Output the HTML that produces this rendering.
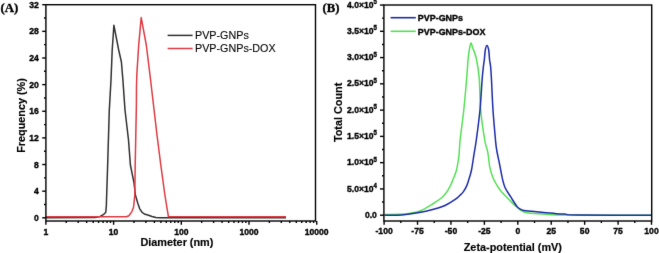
<!DOCTYPE html>
<html><head><meta charset="utf-8"><style>
html,body{margin:0;padding:0;background:#fff;width:659px;height:253px;overflow:hidden}
svg{display:block}
text{stroke:#000;stroke-width:0.35px;paint-order:stroke}

</style></head><body>
<svg width="659" height="253" viewBox="0 0 659 253"><defs><filter id="bl" filterUnits="userSpaceOnUse" x="0" y="0" width="659" height="253" color-interpolation-filters="sRGB"><feConvolveMatrix order="3" kernelMatrix="1 12 1 12 144 12 1 12 1" edgeMode="duplicate"/></filter></defs><g filter="url(#bl)"><rect x="0" y="0" width="659" height="253" fill="#fff"/><line x1="42.20" y1="217.82" x2="45.90" y2="217.82" stroke="#000" stroke-width="1.4"/>
<text transform="translate(38.90,220.82) scale(1,1.12)" font-family="Liberation Sans" font-size="8.6" font-weight="bold" text-anchor="end">0</text>
<line x1="42.20" y1="191.18" x2="45.90" y2="191.18" stroke="#000" stroke-width="1.4"/>
<text transform="translate(38.90,194.18) scale(1,1.12)" font-family="Liberation Sans" font-size="8.6" font-weight="bold" text-anchor="end">4</text>
<line x1="42.20" y1="164.54" x2="45.90" y2="164.54" stroke="#000" stroke-width="1.4"/>
<text transform="translate(38.90,167.54) scale(1,1.12)" font-family="Liberation Sans" font-size="8.6" font-weight="bold" text-anchor="end">8</text>
<line x1="42.20" y1="137.90" x2="45.90" y2="137.90" stroke="#000" stroke-width="1.4"/>
<text transform="translate(38.90,140.90) scale(1,1.12)" font-family="Liberation Sans" font-size="8.6" font-weight="bold" text-anchor="end">12</text>
<line x1="42.20" y1="111.26" x2="45.90" y2="111.26" stroke="#000" stroke-width="1.4"/>
<text transform="translate(38.90,114.26) scale(1,1.12)" font-family="Liberation Sans" font-size="8.6" font-weight="bold" text-anchor="end">16</text>
<line x1="42.20" y1="84.62" x2="45.90" y2="84.62" stroke="#000" stroke-width="1.4"/>
<text transform="translate(38.90,87.62) scale(1,1.12)" font-family="Liberation Sans" font-size="8.6" font-weight="bold" text-anchor="end">20</text>
<line x1="42.20" y1="57.98" x2="45.90" y2="57.98" stroke="#000" stroke-width="1.4"/>
<text transform="translate(38.90,60.98) scale(1,1.12)" font-family="Liberation Sans" font-size="8.6" font-weight="bold" text-anchor="end">24</text>
<line x1="42.20" y1="31.34" x2="45.90" y2="31.34" stroke="#000" stroke-width="1.4"/>
<text transform="translate(38.90,34.34) scale(1,1.12)" font-family="Liberation Sans" font-size="8.6" font-weight="bold" text-anchor="end">28</text>
<line x1="42.20" y1="4.70" x2="45.90" y2="4.70" stroke="#000" stroke-width="1.4"/>
<text transform="translate(38.90,7.70) scale(1,1.12)" font-family="Liberation Sans" font-size="8.6" font-weight="bold" text-anchor="end">32</text>
<line x1="44.00" y1="204.50" x2="45.90" y2="204.50" stroke="#000" stroke-width="1.4"/>
<line x1="44.00" y1="177.86" x2="45.90" y2="177.86" stroke="#000" stroke-width="1.4"/>
<line x1="44.00" y1="151.22" x2="45.90" y2="151.22" stroke="#000" stroke-width="1.4"/>
<line x1="44.00" y1="124.58" x2="45.90" y2="124.58" stroke="#000" stroke-width="1.4"/>
<line x1="44.00" y1="97.94" x2="45.90" y2="97.94" stroke="#000" stroke-width="1.4"/>
<line x1="44.00" y1="71.30" x2="45.90" y2="71.30" stroke="#000" stroke-width="1.4"/>
<line x1="44.00" y1="44.66" x2="45.90" y2="44.66" stroke="#000" stroke-width="1.4"/>
<line x1="44.00" y1="18.02" x2="45.90" y2="18.02" stroke="#000" stroke-width="1.4"/>
<line x1="45.90" y1="221.00" x2="45.90" y2="224.80" stroke="#000" stroke-width="1.4"/>
<text transform="translate(45.90,234.80) scale(1,1.12)" font-family="Liberation Sans" font-size="8.6" font-weight="bold" text-anchor="middle">1</text>
<line x1="113.60" y1="221.00" x2="113.60" y2="224.80" stroke="#000" stroke-width="1.4"/>
<text transform="translate(113.60,234.80) scale(1,1.12)" font-family="Liberation Sans" font-size="8.6" font-weight="bold" text-anchor="middle">10</text>
<line x1="181.30" y1="221.00" x2="181.30" y2="224.80" stroke="#000" stroke-width="1.4"/>
<text transform="translate(181.30,234.80) scale(1,1.12)" font-family="Liberation Sans" font-size="8.6" font-weight="bold" text-anchor="middle">100</text>
<line x1="249.00" y1="221.00" x2="249.00" y2="224.80" stroke="#000" stroke-width="1.4"/>
<text transform="translate(249.00,234.80) scale(1,1.12)" font-family="Liberation Sans" font-size="8.6" font-weight="bold" text-anchor="middle">1000</text>
<line x1="316.70" y1="221.00" x2="316.70" y2="224.80" stroke="#000" stroke-width="1.4"/>
<text transform="translate(316.70,234.80) scale(1,1.12)" font-family="Liberation Sans" font-size="8.6" font-weight="bold" text-anchor="middle">10000</text>
<line x1="66.28" y1="221.00" x2="66.28" y2="223.00" stroke="#000" stroke-width="1.4"/>
<line x1="78.20" y1="221.00" x2="78.20" y2="223.00" stroke="#000" stroke-width="1.4"/>
<line x1="86.66" y1="221.00" x2="86.66" y2="223.00" stroke="#000" stroke-width="1.4"/>
<line x1="93.22" y1="221.00" x2="93.22" y2="223.00" stroke="#000" stroke-width="1.4"/>
<line x1="98.58" y1="221.00" x2="98.58" y2="223.00" stroke="#000" stroke-width="1.4"/>
<line x1="103.11" y1="221.00" x2="103.11" y2="223.00" stroke="#000" stroke-width="1.4"/>
<line x1="107.04" y1="221.00" x2="107.04" y2="223.00" stroke="#000" stroke-width="1.4"/>
<line x1="110.50" y1="221.00" x2="110.50" y2="223.00" stroke="#000" stroke-width="1.4"/>
<line x1="133.98" y1="221.00" x2="133.98" y2="223.00" stroke="#000" stroke-width="1.4"/>
<line x1="145.90" y1="221.00" x2="145.90" y2="223.00" stroke="#000" stroke-width="1.4"/>
<line x1="154.36" y1="221.00" x2="154.36" y2="223.00" stroke="#000" stroke-width="1.4"/>
<line x1="160.92" y1="221.00" x2="160.92" y2="223.00" stroke="#000" stroke-width="1.4"/>
<line x1="166.28" y1="221.00" x2="166.28" y2="223.00" stroke="#000" stroke-width="1.4"/>
<line x1="170.81" y1="221.00" x2="170.81" y2="223.00" stroke="#000" stroke-width="1.4"/>
<line x1="174.74" y1="221.00" x2="174.74" y2="223.00" stroke="#000" stroke-width="1.4"/>
<line x1="178.20" y1="221.00" x2="178.20" y2="223.00" stroke="#000" stroke-width="1.4"/>
<line x1="201.68" y1="221.00" x2="201.68" y2="223.00" stroke="#000" stroke-width="1.4"/>
<line x1="213.60" y1="221.00" x2="213.60" y2="223.00" stroke="#000" stroke-width="1.4"/>
<line x1="222.06" y1="221.00" x2="222.06" y2="223.00" stroke="#000" stroke-width="1.4"/>
<line x1="228.62" y1="221.00" x2="228.62" y2="223.00" stroke="#000" stroke-width="1.4"/>
<line x1="233.98" y1="221.00" x2="233.98" y2="223.00" stroke="#000" stroke-width="1.4"/>
<line x1="238.51" y1="221.00" x2="238.51" y2="223.00" stroke="#000" stroke-width="1.4"/>
<line x1="242.44" y1="221.00" x2="242.44" y2="223.00" stroke="#000" stroke-width="1.4"/>
<line x1="245.90" y1="221.00" x2="245.90" y2="223.00" stroke="#000" stroke-width="1.4"/>
<line x1="269.38" y1="221.00" x2="269.38" y2="223.00" stroke="#000" stroke-width="1.4"/>
<line x1="281.30" y1="221.00" x2="281.30" y2="223.00" stroke="#000" stroke-width="1.4"/>
<line x1="289.76" y1="221.00" x2="289.76" y2="223.00" stroke="#000" stroke-width="1.4"/>
<line x1="296.32" y1="221.00" x2="296.32" y2="223.00" stroke="#000" stroke-width="1.4"/>
<line x1="301.68" y1="221.00" x2="301.68" y2="223.00" stroke="#000" stroke-width="1.4"/>
<line x1="306.21" y1="221.00" x2="306.21" y2="223.00" stroke="#000" stroke-width="1.4"/>
<line x1="310.14" y1="221.00" x2="310.14" y2="223.00" stroke="#000" stroke-width="1.4"/>
<line x1="313.60" y1="221.00" x2="313.60" y2="223.00" stroke="#000" stroke-width="1.4"/>
<polyline points="46.00,217.80 95.00,217.60 100.10,216.40 103.30,214.70 105.80,212.20 106.40,205.00 106.50,200.00 107.50,170.00 108.40,140.00 109.30,110.00 111.00,80.00 112.20,50.00 113.90,25.30 118.70,50.00 121.40,62.00 122.90,80.00 125.00,110.00 128.50,140.00 130.40,165.00 134.00,182.80 135.40,195.00 137.80,203.30 139.60,208.60 141.90,212.20 144.30,214.00 148.50,215.20 152.00,216.50 155.90,217.50 160.00,217.80 286.00,217.80" fill="none" stroke="#303030" stroke-width="1.5" stroke-linejoin="round" stroke-linecap="butt"/>
<polyline points="46.00,216.80 126.50,216.80 128.90,215.80 131.90,211.60 133.60,206.90 134.80,195.00 135.20,165.00 135.80,135.00 136.40,105.00 136.50,86.00 136.80,75.00 138.70,45.00 141.20,17.60 146.30,45.00 150.00,75.00 153.50,105.00 157.00,135.00 160.80,165.00 164.90,195.00 168.40,216.60 286.00,216.80" fill="none" stroke="#de3a42" stroke-width="1.5" stroke-linejoin="round" stroke-linecap="butt"/>
<rect x="45.90" y="4.70" width="269.60" height="216.30" fill="none" stroke="#000" stroke-width="1.4"/>
<line x1="167.60" y1="35.40" x2="192.60" y2="35.40" stroke="#303030" stroke-width="1.5"/>
<line x1="167.60" y1="48.50" x2="192.60" y2="48.50" stroke="#de3a42" stroke-width="1.5"/>
<text x="195.00" y="39.10" font-family="Liberation Sans" font-size="10.75" font-weight="normal" text-anchor="start" style="stroke-width:0.1px">PVP-GNPs</text>
<text x="195.00" y="52.20" font-family="Liberation Sans" font-size="10.75" font-weight="normal" text-anchor="start" style="stroke-width:0.1px">PVP-GNPs-DOX</text>
<text x="176.90" y="245.50" font-family="Liberation Sans" font-size="10.85" font-weight="bold" text-anchor="middle" style="stroke-width:0.15px">Diameter (nm)</text>
<text style="stroke-width:0.15px" transform="translate(24.8,115.50) rotate(-90)" x="0" y="0" font-family="Liberation Sans" font-size="10.85" font-weight="bold" text-anchor="middle">Frequency (%)</text>
<text x="0.40" y="11.60" font-family="Liberation Serif" font-size="12.9" font-weight="bold" text-anchor="start" >(A)</text>
<line x1="380.00" y1="215.20" x2="383.90" y2="215.20" stroke="#000" stroke-width="1.4"/>
<text transform="translate(376.90,217.80) scale(1,1.12)" font-family="Liberation Sans" font-size="8.6" font-weight="bold" text-anchor="end">0.0</text>
<line x1="380.00" y1="188.93" x2="383.90" y2="188.93" stroke="#000" stroke-width="1.4"/>
<text transform="translate(376.90,191.53) scale(1,1.12)" font-family="Liberation Sans" font-size="8.6" font-weight="bold" text-anchor="end">5.0×10<tspan font-size="6.1" dy="-3.2">4</tspan></text>
<line x1="380.00" y1="162.66" x2="383.90" y2="162.66" stroke="#000" stroke-width="1.4"/>
<text transform="translate(376.90,165.26) scale(1,1.12)" font-family="Liberation Sans" font-size="8.6" font-weight="bold" text-anchor="end">1.0×10<tspan font-size="6.1" dy="-3.2">5</tspan></text>
<line x1="380.00" y1="136.39" x2="383.90" y2="136.39" stroke="#000" stroke-width="1.4"/>
<text transform="translate(376.90,138.99) scale(1,1.12)" font-family="Liberation Sans" font-size="8.6" font-weight="bold" text-anchor="end">1.5×10<tspan font-size="6.1" dy="-3.2">5</tspan></text>
<line x1="380.00" y1="110.12" x2="383.90" y2="110.12" stroke="#000" stroke-width="1.4"/>
<text transform="translate(376.90,112.72) scale(1,1.12)" font-family="Liberation Sans" font-size="8.6" font-weight="bold" text-anchor="end">2.0×10<tspan font-size="6.1" dy="-3.2">5</tspan></text>
<line x1="380.00" y1="83.85" x2="383.90" y2="83.85" stroke="#000" stroke-width="1.4"/>
<text transform="translate(376.90,86.45) scale(1,1.12)" font-family="Liberation Sans" font-size="8.6" font-weight="bold" text-anchor="end">2.5×10<tspan font-size="6.1" dy="-3.2">5</tspan></text>
<line x1="380.00" y1="57.58" x2="383.90" y2="57.58" stroke="#000" stroke-width="1.4"/>
<text transform="translate(376.90,60.18) scale(1,1.12)" font-family="Liberation Sans" font-size="8.6" font-weight="bold" text-anchor="end">3.0×10<tspan font-size="6.1" dy="-3.2">5</tspan></text>
<line x1="380.00" y1="31.31" x2="383.90" y2="31.31" stroke="#000" stroke-width="1.4"/>
<text transform="translate(376.90,33.91) scale(1,1.12)" font-family="Liberation Sans" font-size="8.6" font-weight="bold" text-anchor="end">3.5×10<tspan font-size="6.1" dy="-3.2">5</tspan></text>
<line x1="380.00" y1="5.04" x2="383.90" y2="5.04" stroke="#000" stroke-width="1.4"/>
<text transform="translate(376.90,7.64) scale(1,1.12)" font-family="Liberation Sans" font-size="8.6" font-weight="bold" text-anchor="end">4.0×10<tspan font-size="6.1" dy="-3.2">5</tspan></text>
<line x1="382.00" y1="202.06" x2="383.90" y2="202.06" stroke="#000" stroke-width="1.4"/>
<line x1="382.00" y1="175.79" x2="383.90" y2="175.79" stroke="#000" stroke-width="1.4"/>
<line x1="382.00" y1="149.52" x2="383.90" y2="149.52" stroke="#000" stroke-width="1.4"/>
<line x1="382.00" y1="123.25" x2="383.90" y2="123.25" stroke="#000" stroke-width="1.4"/>
<line x1="382.00" y1="96.98" x2="383.90" y2="96.98" stroke="#000" stroke-width="1.4"/>
<line x1="382.00" y1="70.72" x2="383.90" y2="70.72" stroke="#000" stroke-width="1.4"/>
<line x1="382.00" y1="44.44" x2="383.90" y2="44.44" stroke="#000" stroke-width="1.4"/>
<line x1="382.00" y1="18.17" x2="383.90" y2="18.17" stroke="#000" stroke-width="1.4"/>
<line x1="384.10" y1="221.00" x2="384.10" y2="224.80" stroke="#000" stroke-width="1.4"/>
<text transform="translate(384.10,234.30) scale(1,1.12)" font-family="Liberation Sans" font-size="8.6" font-weight="bold" text-anchor="middle">-100</text>
<line x1="417.53" y1="221.00" x2="417.53" y2="224.80" stroke="#000" stroke-width="1.4"/>
<text transform="translate(417.53,234.30) scale(1,1.12)" font-family="Liberation Sans" font-size="8.6" font-weight="bold" text-anchor="middle">-75</text>
<line x1="450.95" y1="221.00" x2="450.95" y2="224.80" stroke="#000" stroke-width="1.4"/>
<text transform="translate(450.95,234.30) scale(1,1.12)" font-family="Liberation Sans" font-size="8.6" font-weight="bold" text-anchor="middle">-50</text>
<line x1="484.38" y1="221.00" x2="484.38" y2="224.80" stroke="#000" stroke-width="1.4"/>
<text transform="translate(484.38,234.30) scale(1,1.12)" font-family="Liberation Sans" font-size="8.6" font-weight="bold" text-anchor="middle">-25</text>
<line x1="517.80" y1="221.00" x2="517.80" y2="224.80" stroke="#000" stroke-width="1.4"/>
<text transform="translate(517.80,234.30) scale(1,1.12)" font-family="Liberation Sans" font-size="8.6" font-weight="bold" text-anchor="middle">0</text>
<line x1="551.23" y1="221.00" x2="551.23" y2="224.80" stroke="#000" stroke-width="1.4"/>
<text transform="translate(551.23,234.30) scale(1,1.12)" font-family="Liberation Sans" font-size="8.6" font-weight="bold" text-anchor="middle">25</text>
<line x1="584.65" y1="221.00" x2="584.65" y2="224.80" stroke="#000" stroke-width="1.4"/>
<text transform="translate(584.65,234.30) scale(1,1.12)" font-family="Liberation Sans" font-size="8.6" font-weight="bold" text-anchor="middle">50</text>
<line x1="618.08" y1="221.00" x2="618.08" y2="224.80" stroke="#000" stroke-width="1.4"/>
<text transform="translate(618.08,234.30) scale(1,1.12)" font-family="Liberation Sans" font-size="8.6" font-weight="bold" text-anchor="middle">75</text>
<line x1="651.50" y1="221.00" x2="651.50" y2="224.80" stroke="#000" stroke-width="1.4"/>
<text transform="translate(651.50,234.30) scale(1,1.12)" font-family="Liberation Sans" font-size="8.6" font-weight="bold" text-anchor="middle">100</text>
<line x1="400.81" y1="221.00" x2="400.81" y2="223.00" stroke="#000" stroke-width="1.4"/>
<line x1="434.24" y1="221.00" x2="434.24" y2="223.00" stroke="#000" stroke-width="1.4"/>
<line x1="467.66" y1="221.00" x2="467.66" y2="223.00" stroke="#000" stroke-width="1.4"/>
<line x1="501.09" y1="221.00" x2="501.09" y2="223.00" stroke="#000" stroke-width="1.4"/>
<line x1="534.51" y1="221.00" x2="534.51" y2="223.00" stroke="#000" stroke-width="1.4"/>
<line x1="567.94" y1="221.00" x2="567.94" y2="223.00" stroke="#000" stroke-width="1.4"/>
<line x1="601.36" y1="221.00" x2="601.36" y2="223.00" stroke="#000" stroke-width="1.4"/>
<line x1="634.79" y1="221.00" x2="634.79" y2="223.00" stroke="#000" stroke-width="1.4"/>
<path d="M384.50,214.60 C387.92,214.52 400.80,214.32 405.00,214.10 C409.20,213.88 408.20,213.55 409.70,213.30 C411.20,213.05 412.37,212.95 414.00,212.60 C415.63,212.25 417.67,211.87 419.50,211.20 C421.33,210.53 422.98,209.70 425.00,208.60 C427.02,207.50 429.60,205.83 431.60,204.60 C433.60,203.37 435.23,202.43 437.00,201.20 C438.77,199.97 440.70,198.57 442.20,197.20 C443.70,195.83 444.93,194.37 446.00,193.00 C447.07,191.63 447.77,190.42 448.60,189.00 C449.43,187.58 450.27,186.08 451.00,184.50 C451.73,182.92 452.08,181.92 453.00,179.50 C453.92,177.08 455.50,174.08 456.50,170.00 C457.50,165.92 458.40,160.00 459.00,155.00 C459.60,150.00 459.30,147.50 460.10,140.00 C460.90,132.50 462.70,120.33 463.80,110.00 C464.90,99.67 465.97,86.67 466.70,78.00 C467.43,69.33 467.70,63.08 468.20,58.00 C468.70,52.92 469.22,49.98 469.70,47.50 C470.18,45.02 470.62,43.10 471.10,43.10 C471.58,43.10 471.75,45.02 472.60,47.50 C473.45,49.98 475.10,52.92 476.20,58.00 C477.30,63.08 478.45,69.33 479.20,78.00 C479.95,86.67 479.78,99.67 480.70,110.00 C481.62,120.33 483.60,133.33 484.70,140.00 C485.80,146.67 486.67,147.17 487.30,150.00 C487.93,152.83 488.08,154.10 488.50,157.00 C488.92,159.90 489.10,164.08 489.80,167.40 C490.50,170.72 491.58,174.05 492.70,176.90 C493.82,179.75 495.20,182.23 496.50,184.50 C497.80,186.77 498.58,188.15 500.50,190.50 C502.42,192.85 505.75,196.25 508.00,198.60 C510.25,200.95 512.22,202.92 514.00,204.60 C515.78,206.28 516.92,207.43 518.70,208.70 C520.48,209.97 522.50,211.43 524.70,212.20 C526.90,212.97 528.73,213.00 531.90,213.30 C535.07,213.60 539.02,213.72 543.70,214.00 C548.38,214.28 542.12,214.80 560.00,215.00 C577.88,215.20 635.83,215.17 651.00,215.20" fill="none" stroke="#55e055" stroke-width="1.5" stroke-linejoin="round"/>
<path d="M384.50,215.20 C386.72,215.20 393.60,215.40 397.80,215.20 C402.00,215.00 406.65,214.35 409.70,214.00 C412.75,213.65 413.42,213.55 416.10,213.10 C418.78,212.65 422.58,212.02 425.80,211.30 C429.02,210.58 432.20,209.77 435.40,208.80 C438.60,207.83 441.63,207.12 445.00,205.50 C448.37,203.88 453.15,200.77 455.60,199.10 C458.05,197.43 458.42,196.70 459.70,195.50 C460.98,194.30 462.10,193.58 463.30,191.90 C464.50,190.22 465.92,187.67 466.90,185.40 C467.88,183.13 468.43,180.87 469.20,178.30 C469.97,175.73 470.70,174.00 471.50,170.00 C472.30,166.00 473.20,159.30 474.00,154.30 C474.80,149.30 475.30,147.38 476.30,140.00 C477.30,132.62 479.03,120.00 480.00,110.00 C480.97,100.00 481.53,87.25 482.10,80.00 C482.67,72.75 483.03,69.83 483.40,66.50 C483.77,63.17 483.98,62.75 484.30,60.00 C484.62,57.25 484.87,52.43 485.30,50.00 C485.73,47.57 486.33,45.40 486.90,45.40 C487.47,45.40 488.25,47.57 488.70,50.00 C489.15,52.43 489.28,57.25 489.60,60.00 C489.92,62.75 490.28,63.17 490.60,66.50 C490.92,69.83 491.10,72.75 491.50,80.00 C491.90,87.25 492.33,100.00 493.00,110.00 C493.67,120.00 494.88,133.33 495.50,140.00 C496.12,146.67 495.97,145.70 496.70,150.00 C497.43,154.30 498.98,161.18 499.90,165.80 C500.82,170.42 501.35,174.08 502.20,177.70 C503.05,181.32 503.55,184.25 505.00,187.50 C506.45,190.75 508.92,194.05 510.90,197.20 C512.88,200.35 515.30,204.40 516.90,206.40 C518.50,208.40 519.32,208.50 520.50,209.20 C521.68,209.90 522.10,210.25 524.00,210.60 C525.90,210.95 528.62,211.00 531.90,211.30 C535.18,211.60 539.02,211.95 543.70,212.40 C548.38,212.85 556.47,213.72 560.00,214.00 C563.53,214.28 561.95,213.93 564.90,214.10 C567.85,214.27 563.35,214.82 577.70,215.00 C592.05,215.18 638.78,215.17 651.00,215.20" fill="none" stroke="#1c2ca6" stroke-width="1.5" stroke-linejoin="round"/>
<rect x="383.90" y="5.00" width="267.80" height="216.00" fill="none" stroke="#000" stroke-width="1.4"/>
<line x1="390.60" y1="17.70" x2="415.80" y2="17.70" stroke="#1c2ca6" stroke-width="1.6"/>
<line x1="390.60" y1="31.30" x2="415.80" y2="31.30" stroke="#55e055" stroke-width="1.6"/>
<text x="417.80" y="21.10" font-family="Liberation Sans" font-size="8.95" font-weight="bold" text-anchor="start" >PVP-GNPs</text>
<text x="417.80" y="34.70" font-family="Liberation Sans" font-size="8.95" font-weight="bold" text-anchor="start" >PVP-GNPs-DOX</text>
<text x="512.85" y="250.60" font-family="Liberation Sans" font-size="10.85" font-weight="bold" text-anchor="middle" style="stroke-width:0.15px">Zeta-potential (mV)</text>
<text style="stroke-width:0.15px" transform="translate(342.4,112.40) rotate(-90)" x="0" y="0" font-family="Liberation Sans" font-size="10.85" font-weight="bold" text-anchor="middle">Total Count</text>
<text x="322.60" y="11.80" font-family="Liberation Serif" font-size="12.7" font-weight="bold" text-anchor="start" >(B)</text></g></svg>
</body></html>
